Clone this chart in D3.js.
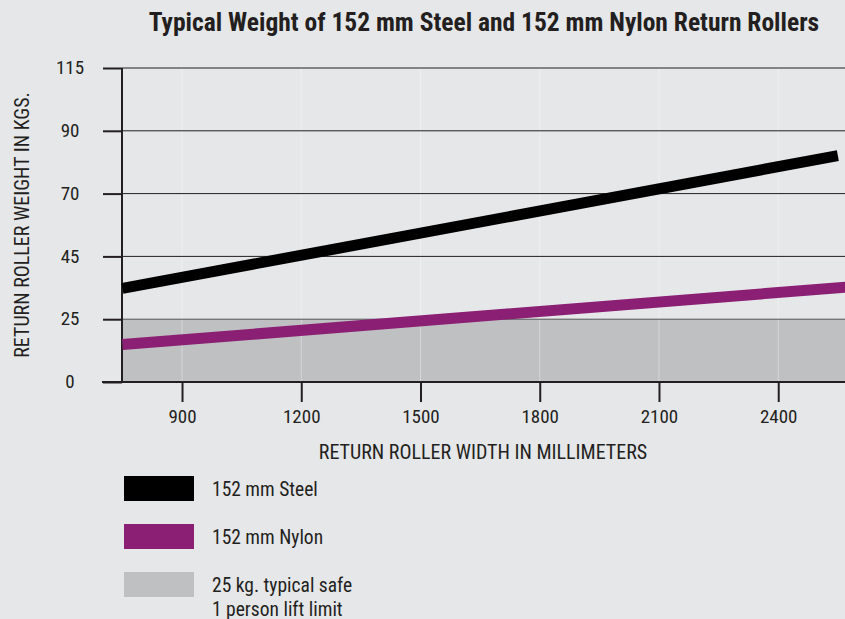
<!DOCTYPE html>
<html>
<head>
<meta charset="utf-8">
<script src="https://cdn.jsdelivr.net/npm/d3@7"></script>
<style>
  body { margin: 0; background: #e6e7e9; }
  svg { display: block; }
  text { font-family: "Liberation Sans Narrow", "Arial Narrow", "Roboto Condensed", sans-serif; fill: #231f20; }
</style>
</head>
<body>
<svg class="chart" width="845" height="619"></svg>
<script>
// chart data
const yTicks = [0, 25, 45, 70, 90, 115];
const xTicks = [900, 1200, 1500, 1800, 2100, 2400];
const steelWidth = [750, 2550];
const steelWeight = [34.8, 82.1];
const nylonWidth = [750, 2570];
const nylonWeight = [14.9, 35.2];
const safeLimit = 25;
const legendItems = ["152 mm Steel", "152 mm Nylon", "25 kg. typical safe|1 person lift limit"];
const legendColors = ["#000000", "#8b1f73", "#bfc0c2"];

const svg = d3.select(".chart");
const plotLeft = 122, plotRight = 845, plotTop = 68, plotBottom = 382;

const x = d3.scaleLinear().domain([749, 2568]).range([plotLeft, plotRight]);
// the y ticks are evenly spaced though values are not, so map piecewise
const y = d3.scaleLinear()
  .domain(yTicks)
  .range(yTicks.map((d, i) => plotBottom - i * (plotBottom - plotTop) / (yTicks.length - 1)));

// title
svg.append("text")
  .attr("x", 484).attr("y", 31)
  .attr("text-anchor", "middle")
  .style("font-size", "25.5px")
  .style("font-weight", "bold")
  .text("Typical Weight of 152 mm Steel and 152 mm Nylon Return Rollers");

// safe lift area
svg.append("rect")
  .attr("x", plotLeft).attr("y", y(safeLimit))
  .attr("width", plotRight - plotLeft).attr("height", y(0) - y(safeLimit))
  .attr("fill", "#bfc0c2");

// faint vertical grid
svg.selectAll(".vgrid").data(xTicks).enter().append("line")
  .attr("x1", d => x(d)).attr("x2", d => x(d))
  .attr("y1", plotTop).attr("y2", plotBottom)
  .attr("stroke", "#ffffff").attr("stroke-opacity", 0.35).attr("stroke-width", 1);

// horizontal grid
svg.selectAll(".hgrid").data(yTicks.slice(1)).enter().append("line")
  .attr("x1", plotLeft).attr("x2", plotRight)
  .attr("y1", d => y(d)).attr("y2", d => y(d))
  .attr("stroke", d => d === safeLimit ? "#555" : "#231f20").attr("stroke-width", 1);

// y axis
const yAxis = svg.append("g")
  .attr("transform", `translate(${plotLeft},0)`)
  .call(d3.axisLeft(y).tickValues(yTicks).tickSize(19).tickPadding(0).tickFormat(d3.format("d")));
yAxis.select(".domain").attr("d", `M0,${plotTop}V${plotBottom}`).attr("stroke", "#231f20").attr("stroke-width", 2);
yAxis.selectAll(".tick line").attr("stroke", "#231f20").attr("stroke-width", 2);
yAxis.selectAll(".tick text")
  .attr("x", -52).attr("dy", "0.3em").attr("text-anchor", "middle")
  .style("font-size", "19px").style("font-family", null);

// x axis
const xAxis = svg.append("g")
  .attr("transform", `translate(0,${plotBottom})`)
  .call(d3.axisBottom(x).tickValues(xTicks).tickSize(20).tickPadding(8).tickFormat(d3.format("d")));
xAxis.select(".domain").attr("d", `M102,0H${plotRight}`).attr("stroke", "#231f20").attr("stroke-width", 2);
xAxis.selectAll(".tick line").attr("stroke", "#231f20").attr("stroke-width", 2);
xAxis.selectAll(".tick text").style("font-size", "19px").style("font-family", null);

// axis titles
svg.append("text")
  .attr("x", 483).attr("y", 459)
  .attr("text-anchor", "middle")
  .style("font-size", "20px")
  .text("RETURN ROLLER WIDTH IN MILLIMETERS");
svg.append("text")
  .attr("transform", "translate(29,225) rotate(-90)")
  .attr("text-anchor", "middle")
  .style("font-size", "20px")
  .text("RETURN ROLLER WEIGHT IN KGS.");

// lines
const line = d3.line().x(d => x(d[0])).y(d => y(d[1]));
svg.append("path")
  .datum(d3.zip(nylonWidth, nylonWeight))
  .attr("d", line).attr("fill", "none")
  .attr("stroke", "#8b1f73").attr("stroke-width", 11);
svg.append("path")
  .datum(d3.zip(steelWidth, steelWeight))
  .attr("d", line).attr("fill", "none")
  .attr("stroke", "#000000").attr("stroke-width", 11);

// legend
const legend = svg.selectAll(".legend").data(legendItems).enter().append("g")
  .attr("transform", (d, i) => `translate(124,${476 + i * 48})`);
legend.append("rect")
  .attr("width", 70).attr("height", 25)
  .attr("fill", (d, i) => legendColors[i]);
legend.each(function (d) {
  const t = d3.select(this).append("text")
    .attr("x", 88).attr("y", 20)
    .style("font-size", "19.5px");
  d.split("|").forEach((s, j) => {
    t.append("tspan").attr("x", 88).attr("dy", j === 0 ? 0 : 24).text(s);
  });
});
</script>
</body>
</html>
